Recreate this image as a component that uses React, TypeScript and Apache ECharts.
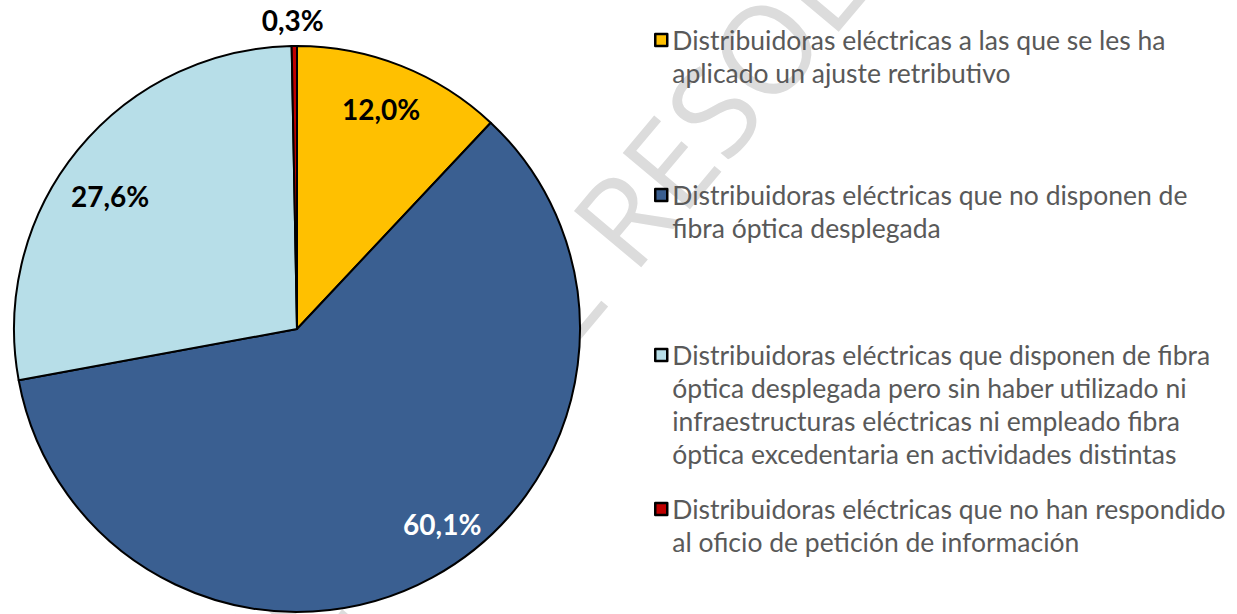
import React, { useEffect, useRef } from 'react';
import * as echarts from 'echarts';

const CATEGORIES = [
  'Distribuidoras eléctricas a las que se les ha aplicado un ajuste retributivo',
  'Distribuidoras eléctricas que no disponen de fibra óptica desplegada',
  'Distribuidoras eléctricas que disponen de fibra óptica desplegada pero sin haber utilizado ni infraestructuras eléctricas ni empleado fibra óptica excedentaria en actividades distintas',
  'Distribuidoras eléctricas que no han respondido al oficio de petición de información',
];

const LEGEND_LINES = [
  ['Distribuidoras eléctricas a las que se les ha', 'aplicado un ajuste retributivo'],
  ['Distribuidoras eléctricas que no disponen de', 'fibra óptica desplegada'],
  [
    'Distribuidoras eléctricas que disponen de fibra',
    'óptica desplegada pero sin haber utilizado ni',
    'infraestructuras eléctricas ni empleado fibra',
    'óptica excedentaria en actividades distintas',
  ],
  ['Distribuidoras eléctricas que no han respondido', 'al oficio de petición de información'],
];

const VALUES = [12.0, 60.1, 27.6, 0.3];

const COLORS = ['#FFC000', '#3A5F91', '#B7DEE8', '#C00000'];
const LABEL_COLORS = ['#000000', '#FFFFFF', '#000000', '#000000'];

// label offsets from the default inside position (styling only)
const LABEL_DX = [31, 76, -75, -3];
const LABEL_DY = [-86, 68, -42, -165];

// legend first-line centre positions (layout)
const LEGEND_Y = [40, 195, 355, 509];
const LH = 33;

const fmt = (v: number) => v.toFixed(1).replace('.', ',') + '%';

export default function App() {
  const ref = useRef<HTMLDivElement>(null);
  useEffect(() => {
    if (!ref.current) return;
    const chart = echarts.init(ref.current, undefined, { renderer: 'svg' });
    const legends = CATEGORIES.map((name, i) => {
      const n = LEGEND_LINES[i].length;
      return {
        data: [name],
        orient: 'vertical',
        left: 654,
        top: LEGEND_Y[i] - ((2 * n - 1) * LH) / 2,
        padding: 0,
        icon: 'rect',
        itemWidth: 12,
        itemHeight: 12,
        itemGap: 0,
        selectedMode: false,
        itemStyle: { borderColor: '#000', borderWidth: 2.5 },
        formatter: () => '\n'.repeat(n - 1) + LEGEND_LINES[i].join('\n'),
        textStyle: {
          color: '#595959',
          fontFamily: 'Lato',
          fontSize: 26.5,
          lineHeight: LH,
        },
      };
    });
    const wmStyle = {
      fill: '#dcdcdc',
      fontFamily: 'Open Sans',
      fontWeight: 400,
      fontSize: 123,
      verticalAlign: 'middle',
    };
    chart.setOption({
      animation: false,
      backgroundColor: '#ffffff',
      graphic: [
        {
          type: 'group',
          x: 597,
          y: 246,
          rotation: (50 * Math.PI) / 180,
          z: -10,
          silent: true,
          children: [
            { type: 'text', x: 0, y: 0, style: { ...wmStyle, text: 'RESOLUCIÓN', align: 'left' } },
            { type: 'text', x: 0, y: 0, style: { ...wmStyle, text: 'PROPUESTA DE ', align: 'right' } },
          ],
        },
      ],
      legend: legends,
      series: [
        {
          type: 'pie',
          z: 5,
          center: [297, 329],
          radius: 283,
          startAngle: 90,
          clockwise: true,
          silent: true,
          avoidLabelOverlap: false,
          emphasis: { disabled: true },
          itemStyle: { borderColor: '#000000', borderWidth: 2 },
          label: {
            show: true,
            position: 'inside',
            formatter: (p: any) => fmt(p.value),
            fontFamily: 'Lato',
            fontWeight: 'bold',
            fontSize: 28,
          },
          labelLine: { show: false },
          labelLayout: (p: any) => ({ dx: LABEL_DX[p.dataIndex], dy: LABEL_DY[p.dataIndex] }),
          data: CATEGORIES.map((name, i) => ({
            name,
            value: VALUES[i],
            itemStyle: { color: COLORS[i] },
            label: { color: LABEL_COLORS[i] },
          })),
        },
      ],
    });
    return () => chart.dispose();
  }, []);
  return (
    <div
      ref={ref}
      style={{ position: 'fixed', left: 0, top: 0, width: 1237, height: 614 }}
    />
  );
}
